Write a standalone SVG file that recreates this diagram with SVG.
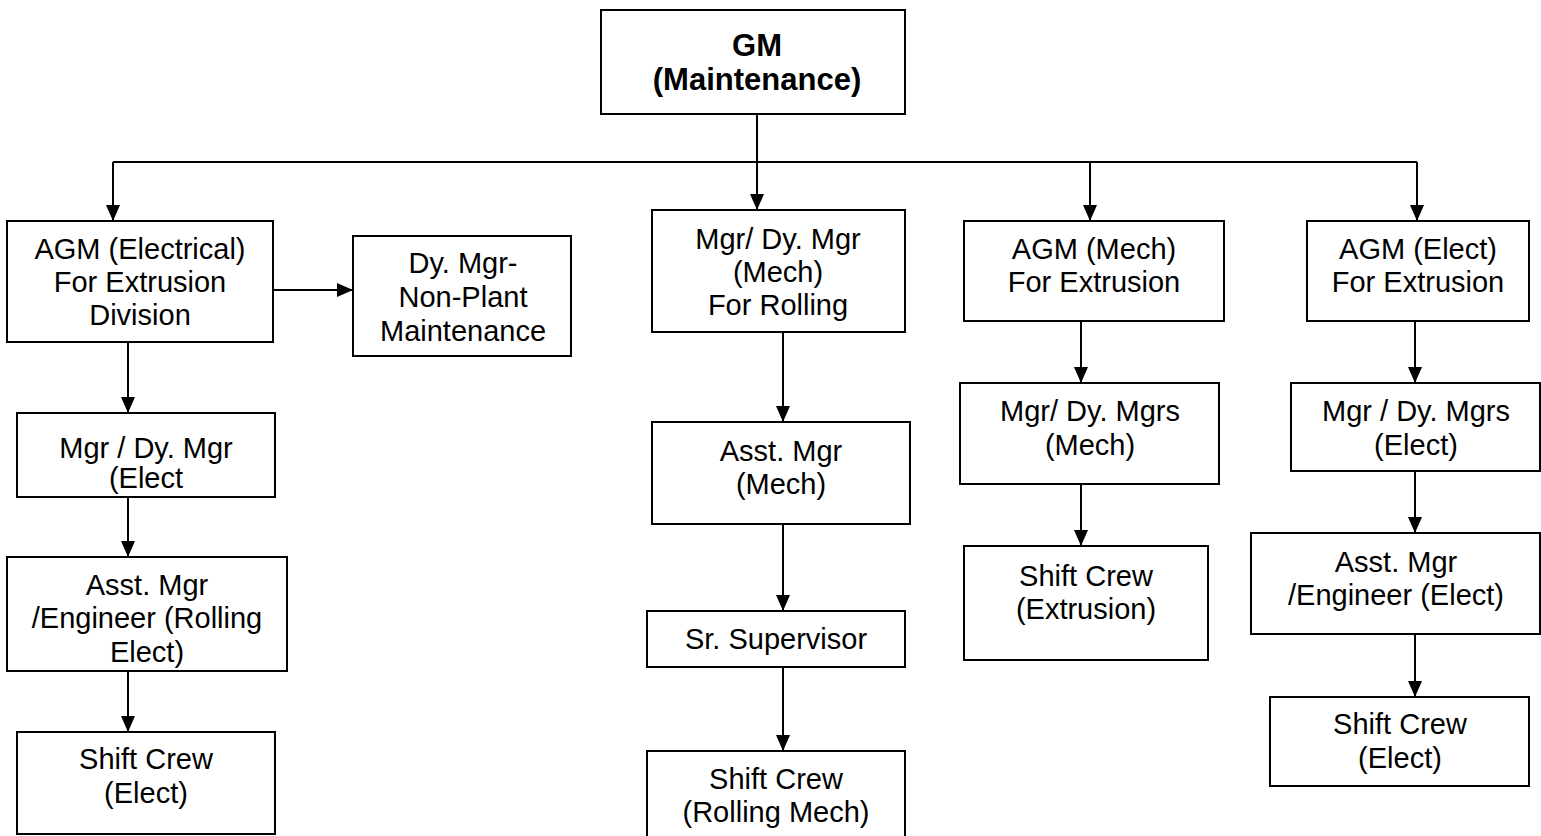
<svg xmlns="http://www.w3.org/2000/svg" width="1541" height="836" viewBox="0 0 1541 836">
<style>
.box{fill:#fff;stroke:#000;stroke-width:2}
.t{font-family:"Liberation Sans",Arial,sans-serif;font-size:29px;fill:#000;text-anchor:middle}
.b{font-weight:bold;font-size:31px}
.c{fill:none;stroke:#000;stroke-width:2}
</style>
<defs>
<marker id="arr" markerWidth="16" markerHeight="14" refX="15" refY="7" orient="auto" markerUnits="userSpaceOnUse" viewBox="0 0 16 14">
<path d="M0,0 L16,7 L0,14 Z" fill="#000"/>
</marker>
<clipPath id="clipMgrElect"><rect x="17" y="413" width="258" height="84"/></clipPath>
<clipPath id="clipAsstRoll"><rect x="7" y="557" width="280" height="114"/></clipPath>
</defs>
<g id="connectors">
<path class="c" d="M757,114 V162"/>
<path class="c" d="M113,162 H1417"/>
<path class="c" d="M757,162 V209" marker-end="url(#arr)"/>
<path class="c" d="M113,162 V220" marker-end="url(#arr)"/>
<path class="c" d="M1090,162 V220" marker-end="url(#arr)"/>
<path class="c" d="M1417,162 V220" marker-end="url(#arr)"/>
<path class="c" d="M273,290 H352" marker-end="url(#arr)"/>
<path class="c" d="M128,342 V412" marker-end="url(#arr)"/>
<path class="c" d="M128,497 V556" marker-end="url(#arr)"/>
<path class="c" d="M128,671 V731" marker-end="url(#arr)"/>
<path class="c" d="M783,332 V421" marker-end="url(#arr)"/>
<path class="c" d="M783,524 V610" marker-end="url(#arr)"/>
<path class="c" d="M783,667 V750" marker-end="url(#arr)"/>
<path class="c" d="M1081,321 V382" marker-end="url(#arr)"/>
<path class="c" d="M1081,484 V545" marker-end="url(#arr)"/>
<path class="c" d="M1415,321 V382" marker-end="url(#arr)"/>
<path class="c" d="M1415,471 V532" marker-end="url(#arr)"/>
<path class="c" d="M1415,634 V696" marker-end="url(#arr)"/>
</g>
<g id="gm">
<rect class="box" x="601" y="10" width="304" height="104"/>
<text class="t b" x="757" y="56">GM</text>
<text class="t b" x="757" y="90">(Maintenance)</text>
</g>
<g id="agm-electrical">
<rect class="box" x="7" y="221" width="266" height="121"/>
<text class="t" x="140" y="259">AGM (Electrical)</text>
<text class="t" x="140" y="292">For Extrusion</text>
<text class="t" x="140" y="325">Division</text>
</g>
<g id="dy-mgr-nonplant">
<rect class="box" x="353" y="236" width="218" height="120"/>
<text class="t" x="463" y="273">Dy. Mgr-</text>
<text class="t" x="463" y="307">Non-Plant</text>
<text class="t" x="463" y="341">Maintenance</text>
</g>
<g id="mgr-dy-mgr-rolling">
<rect class="box" x="652" y="210" width="253" height="122"/>
<text class="t" x="778" y="249">Mgr/ Dy. Mgr</text>
<text class="t" x="778" y="282">(Mech)</text>
<text class="t" x="778" y="315">For Rolling</text>
</g>
<g id="agm-mech">
<rect class="box" x="964" y="221" width="260" height="100"/>
<text class="t" x="1094" y="259">AGM (Mech)</text>
<text class="t" x="1094" y="292">For Extrusion</text>
</g>
<g id="agm-elect">
<rect class="box" x="1307" y="221" width="222" height="100"/>
<text class="t" x="1418" y="259">AGM (Elect)</text>
<text class="t" x="1418" y="292">For Extrusion</text>
</g>
<g id="mgr-dy-mgr-elect">
<rect class="box" x="17" y="413" width="258" height="84"/>
<g clip-path="url(#clipMgrElect)">
<text class="t" x="146" y="458">Mgr / Dy. Mgr</text>
<text class="t" x="146" y="488">(Elect</text>
</g>
</g>
<g id="asst-mgr-rolling-elect">
<rect class="box" x="7" y="557" width="280" height="114"/>
<g clip-path="url(#clipAsstRoll)">
<text class="t" x="147" y="595">Asst. Mgr</text>
<text class="t" x="147" y="628">/Engineer (Rolling</text>
<text class="t" x="147" y="662">Elect)</text>
</g>
</g>
<g id="shift-crew-elect-left">
<rect class="box" x="17" y="732" width="258" height="102"/>
<text class="t" x="146" y="769">Shift Crew</text>
<text class="t" x="146" y="803">(Elect)</text>
</g>
<g id="asst-mgr-mech">
<rect class="box" x="652" y="422" width="258" height="102"/>
<text class="t" x="781" y="461">Asst. Mgr</text>
<text class="t" x="781" y="494">(Mech)</text>
</g>
<g id="sr-supervisor">
<rect class="box" x="647" y="611" width="258" height="56"/>
<text class="t" x="776" y="649">Sr. Supervisor</text>
</g>
<g id="shift-crew-rolling-mech">
<rect class="box" x="647" y="751" width="258" height="90"/>
<text class="t" x="776" y="789">Shift Crew</text>
<text class="t" x="776" y="822">(Rolling Mech)</text>
</g>
<g id="mgr-dy-mgrs-mech">
<rect class="box" x="960" y="383" width="259" height="101"/>
<text class="t" x="1090" y="421">Mgr/ Dy. Mgrs</text>
<text class="t" x="1090" y="455">(Mech)</text>
</g>
<g id="shift-crew-extrusion">
<rect class="box" x="964" y="546" width="244" height="114"/>
<text class="t" x="1086" y="586">Shift Crew</text>
<text class="t" x="1086" y="619">(Extrusion)</text>
</g>
<g id="mgr-dy-mgrs-elect">
<rect class="box" x="1291" y="383" width="249" height="88"/>
<text class="t" x="1416" y="421">Mgr / Dy. Mgrs</text>
<text class="t" x="1416" y="455">(Elect)</text>
</g>
<g id="asst-mgr-engineer-elect">
<rect class="box" x="1251" y="533" width="289" height="101"/>
<text class="t" x="1396" y="572">Asst. Mgr</text>
<text class="t" x="1396" y="605">/Engineer (Elect)</text>
</g>
<g id="shift-crew-elect-right">
<rect class="box" x="1270" y="697" width="259" height="89"/>
<text class="t" x="1400" y="734">Shift Crew</text>
<text class="t" x="1400" y="768">(Elect)</text>
</g>
</svg>
